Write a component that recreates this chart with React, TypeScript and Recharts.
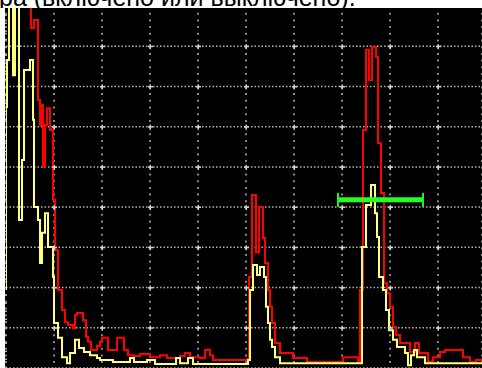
import React from 'react';
import { ComposedChart, Line, XAxis, YAxis, CartesianGrid, ReferenceLine, Scatter } from 'recharts';

// A-scan: x = sample (48 per division), y = amplitude in % of screen height
const redPos = [0, 25, 28, 32, 34, 35, 37, 39, 41, 44, 47, 49, 52, 56, 59, 62, 67, 69, 71, 77, 80, 82, 85, 91, 94, 96, 102, 111, 118, 122, 127, 134, 144, 154, 161, 174, 179, 184, 194, 199, 204, 207, 241, 243, 246, 250, 253, 257, 259, 262, 264, 266, 269, 274, 287, 301, 337, 352, 354, 357, 360, 363, 366, 370, 372, 375, 378, 381, 384, 387, 390, 394, 404, 409, 413, 422, 427, 434, 439, 457, 464, 470, 476];
const redAmp = [94, 84.5, 86.5, 66.6, 60.4, 65.4, 50, 60.4, 64.6, 59.2, 41.8, 29.3, 19.4, 14.4, 11.4, 10.7, 9.9, 13.2, 13.7, 11.9, 7.7, 6.5, 4.5, 5.5, 6.5, 7.5, 4.5, 7.5, 4.5, 3.2, 3.0, 3.5, 2.7, 3.2, 2.5, 3.0, 3.7, 2.7, 2.5, 4.5, 3.2, 2.0, 2.2, 22.6, 43.0, 28.8, 40.0, 32.3, 26.1, 19.4, 15.2, 11.2, 6.2, 3.7, 2.5, 1.5, 2.7, 1.5, 19.4, 59.2, 79.1, 71.6, 79.8, 77.3, 55.9, 43.5, 21.1, 18.6, 15.2, 10.2, 8.2, 6.2, 4.0, 6.2, 3.7, 1.5, 2.7, 4.0, 4.5, 2.7, 1.5, 2.0, 2.0];

const yellowPos = [0, 0, 1, 3, 7, 9, 13, 16, 18, 24, 27, 28, 32, 34, 36, 39, 42, 47, 48, 52, 56, 61, 64, 69, 73, 78, 84, 91, 94, 107, 124, 128, 141, 149, 170, 174, 182, 187, 242, 244, 247, 251, 254, 258, 260, 262, 264, 266, 269, 274, 356, 360, 365, 369, 371, 373, 377, 380, 383, 387, 391, 399, 402, 405, 408, 411, 419, 476];
const yellowAmp = [19.4, 64.9, 76.6, 94, 72.8, 94, 36.8, 51.7, 74.1, 76.6, 61.7, 40.0, 36.8, 26.1, 33.6, 38.5, 30.1, 22.6, 11.2, 7.5, 2.7, 1.2, 3.7, 7.0, 5.0, 4.0, 3.2, 2.5, 2.0, 1.5, 2.5, 1.5, 2.0, 1.0, 2.5, 1.2, 2.5, 1.0, 2.0, 19.4, 25.6, 23.1, 25.1, 22.6, 15.2, 11.2, 7.0, 5.2, 2.7, 1.2, 30.1, 40.5, 45.5, 38.5, 32.6, 22.6, 19.4, 14.4, 9.4, 7.0, 5.2, 3.7, 0.7, 3.2, 4.5, 2.7, 1.2, 1.2];

const gatePos = [332, 417];
const gateLevel = 41.8;

const xTicks = [48, 96, 144, 192, 240, 288, 336, 384, 432];
const yTicks = [10, 20, 30, 40, 50, 60, 70, 80];

const caption = 'ра (включено или выключено).';

const redData = redPos.map((x, i) => ({ x, y: redAmp[i] }));
const yellowData = yellowPos.map((x, i) => ({ x, y: yellowAmp[i] }));
const gateData = gatePos.map((x) => ({ x, y: gateLevel }));
const crossData = xTicks.flatMap((x) => yTicks.map((y) => ({ x, y })));

const Cross = (props: any) => {
  const { cx, cy } = props;
  return (
    <g>
      <rect x={cx - 2} y={cy - 0.5} width={5} height={1.5} fill="#d0d0d0" />
      <rect x={cx - 0.5} y={cy - 2} width={1.5} height={5} fill="#d0d0d0" />
    </g>
  );
};

const GateEnd = (props: any) => {
  const { cx, cy, index } = props;
  return <rect key={`g${index}`} x={cx - 1} y={cy - 7} width={2} height={14} fill="#22ee22" />;
};

export default function App() {
  return (
    <div style={{ position: 'absolute', left: 0, top: 0, width: 482, height: 368, background: '#fff', overflow: 'hidden' }}>
      <div style={{ position: 'absolute', left: 5, top: 8, width: 477, height: 360, background: '#000' }} />
      <div style={{ position: 'absolute', left: 0, top: 0 }}>
        <ComposedChart width={482} height={368} margin={{ top: 6, right: 0, bottom: 0, left: 6 }}>
          <XAxis dataKey="x" type="number" domain={[0, 476]} ticks={xTicks} hide allowDataOverflow />
          <YAxis type="number" domain={[0, 90]} ticks={yTicks} hide allowDataOverflow />
          <CartesianGrid vertical={false} stroke="#b4b4b4" strokeWidth={1.5} strokeDasharray="1.5 2" />
          <CartesianGrid horizontal={false} stroke="#b4b4b4" strokeWidth={1.5} strokeDasharray="2 4.7" />
          <ReferenceLine x={0} stroke="#a8a8a8" strokeWidth={2} strokeDasharray="1.5 6.5" />
          <Scatter data={crossData} dataKey="y" shape={<Cross />} isAnimationActive={false} />
          <Line data={redData} dataKey="y" type="stepAfter" stroke="#ff0000" strokeWidth={2} dot={false} isAnimationActive={false} />
          <Line data={yellowData} dataKey="y" type="stepAfter" stroke="#ffff80" strokeWidth={2} dot={false} isAnimationActive={false} />
          <Line data={gateData} dataKey="y" type="linear" stroke="#22ff22" strokeWidth={5} dot={GateEnd} isAnimationActive={false} />
        </ComposedChart>
      </div>
      <svg style={{ position: 'absolute', left: 0, top: 0 }} width={482} height={8}>
        <rect width={482} height={8} fill="#fff" />
        <text x={-1} y={6} fontSize={25} fontFamily="'Liberation Sans', Arial, sans-serif" fill="#000">
          {caption}
        </text>
      </svg>
    </div>
  );
}
